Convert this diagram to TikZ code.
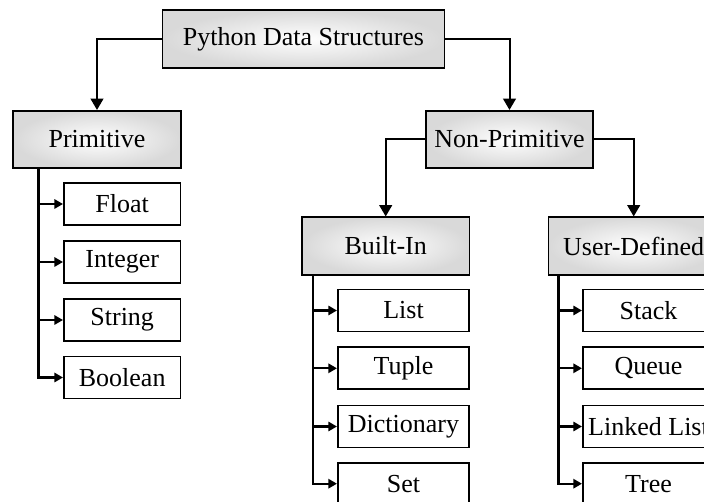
\documentclass[tikz,border=0pt]{standalone}
\usepackage{fontspec}
\setmainfont{Liberation Serif}
\usetikzlibrary{arrows.meta,calc}
\begin{document}
\begin{tikzpicture}[x=0.75pt,y=-0.75pt,
  every node/.style={font=\fontsize{19.5}{22}\selectfont, inner sep=0pt},
  gbox/.style={draw=black, line width=1.3pt, shading=radial, inner color=white, outer color=black!15, minimum height=43pt},
  cbox/.style={draw=black, line width=1.3pt, fill=white, minimum height=31.5pt},
  mainarrow/.style={line width=1.5pt, -{Triangle[length=8.5pt,width=9.5pt]}},
  subarrow/.style={line width=1.6pt, -{Triangle[length=6.5pt,width=7pt]}}
]
\useasboundingbox (0,0) rectangle (704,502);
\clip (0,0) rectangle (704,502);
\fill[white] (0,0) rectangle (704,502);

% main boxes
\node[gbox, minimum width=211.5pt] (root) at (303.5,39) {Python Data Structures};
\node[gbox, minimum width=125.5pt] (prim) at (97,139.5) {Primitive};
\node[gbox, minimum width=125.25pt] (nonp) at (509.5,139.5) {Non-Primitive};
\node[gbox, minimum width=125.5pt] (bi) at (385.7,246) {Built-In};
\node[gbox, minimum width=128pt] (ud) at (633.7,246) {User-Defined};

% primitive children
\node[cbox, minimum width=87.5pt] (float) at (122.2,204) {Float};
\node[cbox, minimum width=87.5pt] (int) at (122.2,262) {Integer};
\node[cbox, minimum width=87.5pt] (str) at (122.2,320) {String};
\node[cbox, minimum width=87.5pt] (bool) at (122.2,377.5) {Boolean};

% built-in children
\node[cbox, minimum width=98.5pt] (list) at (403.5,310.5) {List};
\node[cbox, minimum width=98.5pt] (tuple) at (403.5,368.3) {Tuple};
\node[cbox, minimum width=98.5pt] (dict) at (403.5,426.5) {Dictionary};
\node[cbox, minimum width=98.5pt] (set) at (403.5,483.7) {Set};

% user-defined children
\node[cbox, minimum width=98.5pt] (stack) at (648.5,310.5) {Stack};
\node[cbox, minimum width=98.5pt] (queue) at (648.5,368.3) {Queue};
\node[cbox, minimum width=98.5pt] (ll) at (648.5,426.5) {Linked List};
\node[cbox, minimum width=98.5pt] (tree) at (648.5,483.7) {Tree};

% main connectors
\draw[mainarrow] (root.west) -| (prim.north);
\draw[mainarrow] (root.east) -| (nonp.north);
\draw[mainarrow] (nonp.west) -| (bi.north);
\draw[mainarrow] (nonp.east) -| (ud.north);

% trunks
\coordinate (tp) at ($(prim.south west)+(26,0)$);
\coordinate (tb) at ($(bi.south west)+(11.5,0)$);
\coordinate (tu) at ($(ud.south west)+(11,0)$);

\draw[subarrow] (tp) |- (bool.west);
\foreach \c in {float,int,str} \draw[subarrow] (\c.west -| tp) -- (\c.west);
\draw[subarrow] (tb) |- (set.west);
\foreach \c in {list,tuple,dict} \draw[subarrow] (\c.west -| tb) -- (\c.west);
\draw[subarrow] (tu) |- (tree.west);
\foreach \c in {stack,queue,ll} \draw[subarrow] (\c.west -| tu) -- (\c.west);
\end{tikzpicture}
\end{document}
